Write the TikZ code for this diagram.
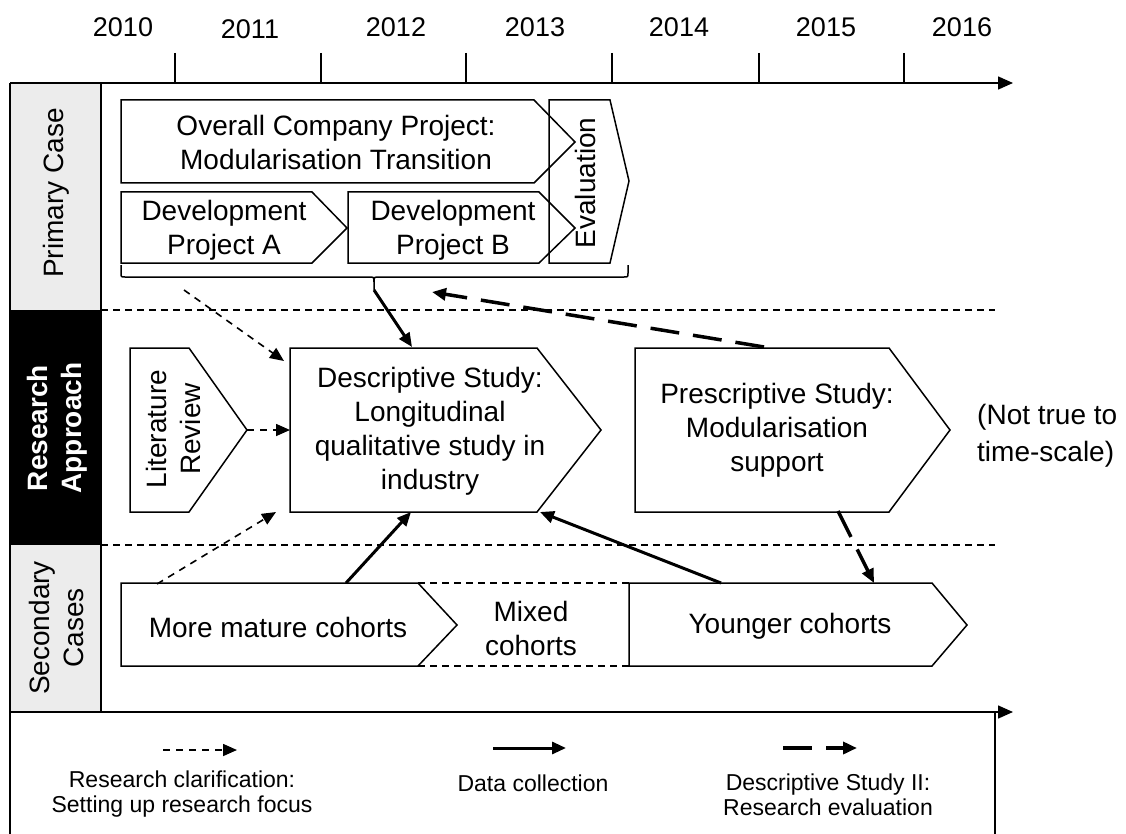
\documentclass[tikz,border=0pt]{standalone}
\usepackage{fontspec}
\setmainfont{Liberation Sans}
\usetikzlibrary{arrows.meta,calc}

\begin{document}
\begin{tikzpicture}[x=1pt,y=-1pt,
  outline/.style={line width=1.5pt, line join=miter},
  lbl/.style={font=\fontsize{28}{34}\selectfont, align=center, inner sep=0pt},
  yearlbl/.style={font=\fontsize{27}{32}\selectfont, inner sep=0pt},
  legendlbl/.style={font=\fontsize{23}{25}\selectfont, align=center, inner sep=0pt},
  lanesep/.style={line width=1.3pt, dash pattern=on 7pt off 5pt},
  clarify/.style={line width=1.6pt, dash pattern=on 7pt off 6pt, -{Triangle[length=14pt,width=12pt]}},
  collect/.style={line width=3pt, -{Triangle[length=14pt,width=12pt]}},
  evaluate/.style={line width=3.5pt, dash pattern=on 29pt off 14pt, -{Triangle[length=14pt,width=12pt]}},
  axis/.style={line width=1.5pt, -{Triangle[length=15pt,width=13pt]}},
]
\useasboundingbox (0,0) rectangle (1126,834);

% lane headers
\fill[gray!15] (10,83) rectangle (101,310);
\fill[black] (10,310) rectangle (101,545);
\fill[gray!15] (10,545) rectangle (101,712);
\draw[outline] (10,83) -- (10,834);
\draw[outline] (101,83) -- (101,712);
\draw[outline] (995,712) -- (995,834);

\node[lbl, rotate=90] (primary) at (56,193) {Primary Case};
\node[lbl, rotate=90, text=white, font=\fontsize{28}{34}\selectfont\bfseries] (approach) at (57,428) {Research\\Approach};
\node[lbl, rotate=90] (secondary) at (56,628) {Secondary\\Cases};

% time axis with ticks and years
\coordinate (axisstart) at (10,83);
\coordinate (axisend) at (1013,83);
\draw[axis] (axisstart) -- (axisend);
\foreach \x in {175,321,466,612,759,904} \draw[line width=1.5pt] (\x,53) -- (\x,83);
\node[yearlbl] (y2010) at (123,27) {2010};
\node[yearlbl] (y2011) at (250,29) {2011};
\node[yearlbl] (y2012) at (396,27) {2012};
\node[yearlbl] (y2013) at (535,27) {2013};
\node[yearlbl] (y2014) at (679,27) {2014};
\node[yearlbl] (y2015) at (826,27) {2015};
\node[yearlbl] (y2016) at (962,27) {2016};

% lane separators
\draw[lanesep] (101,310) -- (995,310);
\draw[lanesep] (101,545) -- (995,545);

% bottom axis
\coordinate (baxisstart) at (10,712);
\coordinate (baxisend) at (1013,712);
\draw[axis] (baxisstart) -- (baxisend);

% primary case
\draw[outline] (549,100) -- (610,100) -- (629,181) -- (610,263) -- (549,263) -- cycle;
\node[lbl, rotate=90] (eval) at (585,183) {Evaluation};
\draw[outline] (121,100) -- (534,100) -- (575,142) -- (534,183) -- (121,183) -- cycle;
\node[lbl] (overall) at (336,142) {Overall Company Project:\\Modularisation Transition};
\draw[outline] (121,192) -- (312,192) -- (347,228) -- (312,263) -- (121,263) -- cycle;
\node[lbl] (devA) at (224,230) {Development\\Project A};
\draw[outline] (348,192) -- (539,192) -- (575,228) -- (539,263) -- (348,263) -- cycle;
\node[lbl] (devB) at (453,230) {Development\\Project B};
% bracket under the primary case
\coordinate (bracetip) at (374,290);
\draw[outline] (121,265) -- (121,273) .. controls (121,277) .. (125,277) -- (369,277)
  .. controls (374,277) .. (374,282) -- (bracetip);
\draw[outline] (374,282) .. controls (374,277) .. (379,277) -- (624,277)
  .. controls (628,277) .. (628,273) -- (628,265);

% research approach
\draw[outline] (130,348) -- (189,348) -- (247,430) -- (189,512) -- (130,512) -- cycle;
\node[lbl, rotate=90] (lit) at (173,429) {Literature\\Review};
\coordinate (littip) at (247,430);
\draw[outline] (290,348) -- (537,348) -- (601,430) -- (537,512) -- (290,512) -- cycle;
\node[lbl] (desc) at (430,431) {Descriptive Study:\\Longitudinal\\qualitative study in\\industry};
\coordinate (descwest) at (290,430);
\coordinate (desctop) at (412,347);
\coordinate (descbot) at (411,512);
\coordinate (desccorner) at (540,512);
\coordinate (descnw) at (284,361);
\coordinate (descsw) at (276,512);
\draw[outline] (635,348) -- (889,348) -- (950,430) -- (889,512) -- (635,512) -- cycle;
\node[lbl] (presc) at (777,430) {Prescriptive Study:\\Modularisation\\support};
\coordinate (presctop) at (764,347);
\coordinate (prescbot) at (838,511);
\node[lbl, align=left, anchor=west, font=\fontsize{28}{37}\selectfont] (note) at (977,436) {(Not true to\\time-scale)};

% secondary cases
\draw[lanesep] (418,583) -- (629,583);
\draw[lanesep] (418,666) -- (629,666);
\node[lbl] (mixed) at (531,628) {Mixed\\cohorts};
\draw[outline] (121,583) -- (418,583) -- (457,625) -- (418,666) -- (121,666) -- cycle;
\node[lbl] (mature) at (278,627) {More mature cohorts};
\coordinate (maturetopA) at (157,584);
\coordinate (maturetopB) at (346,583);
\draw[outline] (629,583) -- (932,583) -- (967,625) -- (932,666) -- (629,666) -- cycle;
\node[lbl] (younger) at (790,626) {Younger cohorts};
\coordinate (youngertopA) at (721,583);
\coordinate (youngertopB) at (874,583);

% connectors
\coordinate (focusstart) at (184,290);
\coordinate (evalend) at (432,292);
\draw[clarify] (focusstart) -- (descnw);
\draw[clarify] (littip) -- (descwest);
\draw[clarify] (maturetopA) -- (descsw);
\draw[collect] (bracetip) -- (desctop);
\draw[collect] (maturetopB) -- (descbot);
\draw[collect] (youngertopA) -- (desccorner);
\draw[evaluate] (presctop) -- (evalend);
\draw[evaluate] (prescbot) -- (youngertopB);

% legend
\coordinate (lgAs) at (163,750); \coordinate (lgAe) at (237,750);
\coordinate (lgBs) at (493,748); \coordinate (lgBe) at (566,748);
\coordinate (lgCs) at (783,748); \coordinate (lgCe) at (857,748);
\draw[clarify] (lgAs) -- (lgAe);
\draw[collect] (lgBs) -- (lgBe);
\draw[evaluate] (lgCs) -- (lgCe);
\node[legendlbl] (lgA) at (182,794) {Research clarification:\\Setting up research focus};
\node[legendlbl] (lgB) at (533,783) {Data collection};
\node[legendlbl] (lgC) at (828,795) {Descriptive Study II:\\Research evaluation};
\end{tikzpicture}
\end{document}
